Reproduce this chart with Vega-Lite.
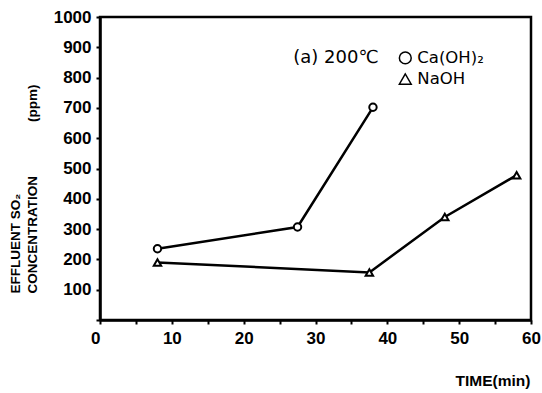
{
  "$schema": "https://vega.github.io/schema/vega-lite/v6.json",
  "width": 431,
  "height": 303,
  "autosize": "none",
  "padding": {"left": 100, "top": 17, "right": 11, "bottom": 73},
  "background": "white",
  "config": {
    "view": {"stroke": "black", "strokeWidth": 2.5},
    "font": "Liberation Sans",
    "axis": {"labelOverlap": false}
  },
  "datasets": {
    "series": [
      {"time": 8, "conc": 235, "sorbent": "Ca(OH)₂"},
      {"time": 27.5, "conc": 307, "sorbent": "Ca(OH)₂"},
      {"time": 38, "conc": 702, "sorbent": "Ca(OH)₂"},
      {"time": 8, "conc": 190, "sorbent": "NaOH"},
      {"time": 37.5, "conc": 157, "sorbent": "NaOH"},
      {"time": 48, "conc": 340, "sorbent": "NaOH"},
      {"time": 58, "conc": 478, "sorbent": "NaOH"}
    ],
    "key": [
      {"time": 42.5, "conc": 865, "sorbent": "Ca(OH)₂"},
      {"time": 42.5, "conc": 795, "sorbent": "NaOH"}
    ],
    "note": [
      {"time": 26.9, "conc": 865, "label": "(a) 200℃"}
    ]
  },
  "encoding": {
    "x": {
      "field": "time", "type": "quantitative",
      "scale": {"domain": [0, 60], "nice": false, "zero": false},
      "axis": {
        "values": [0, 5, 10, 15, 20, 25, 30, 35, 40, 45, 50, 55, 60],
        "labelExpr": "datum.value % 10 == 0 ? datum.label : ''",
        "labelAlign": {"condition": {"test": "datum.value == 0", "value": "right"}, "value": "center"},
        "labelOverlap": false,
        "grid": false,
        "domainColor": "black", "domainWidth": 2.5,
        "tickColor": "black", "tickWidth": 2, "tickSize": 4,
        "labelFont": "Liberation Sans", "labelFontWeight": "bold", "labelFontSize": 17, "labelColor": "black",
        "labelPadding": 6,
        "title": "TIME(min)",
        "titleFont": "Liberation Sans", "titleFontWeight": "bold", "titleFontSize": 15.5, "titleColor": "black",
        "titleAnchor": "end", "titleAlign": "right", "titleX": 430, "titleY": 65, "titleBaseline": "alphabetic"
      }
    },
    "y": {
      "field": "conc", "type": "quantitative",
      "scale": {"domain": [0, 1000], "nice": false},
      "axis": {
        "values": [0, 100, 200, 300, 400, 500, 600, 700, 800, 900, 1000],
        "labelExpr": "datum.value == 0 ? '' : datum.label",
        "labelOverlap": false,
        "format": "d",
        "grid": false,
        "domainColor": "black", "domainWidth": 2.5,
        "tickColor": "black", "tickWidth": 2, "tickSize": 4,
        "labelFont": "Liberation Sans", "labelFontWeight": "bold", "labelFontSize": 17, "labelColor": "black",
        "labelPadding": 5,
        "title": ["EFFLUENT SO₂", "CONCENTRATION\u2003\u2003\u2003\u2003(ppm)"],
        "titleFont": "Liberation Sans", "titleFontWeight": "bold", "titleFontSize": 13.5, "titleColor": "black",
        "titleAngle": -90, "titleAlign": "left", "titleBaseline": "middle",
        "titleX": -84.5, "titleY": 276, "titleLineHeight": 17
      }
    }
  },
  "layer": [
    {
      "data": {"name": "series"},
      "mark": {"type": "line", "stroke": "black", "strokeWidth": 2.5},
      "encoding": {
        "detail": {"field": "sorbent"}
      }
    },
    {
      "data": {"name": "series"},
      "mark": {"type": "point", "filled": true, "color": "white", "stroke": "black", "strokeWidth": 2, "opacity": 1, "size": 55},
      "encoding": {
        "shape": {
          "field": "sorbent", "type": "nominal",
          "scale": {"domain": ["Ca(OH)₂", "NaOH"], "range": ["circle", "triangle-up"]},
          "legend": null
        }
      }
    },
    {
      "data": {"name": "key"},
      "mark": {"type": "point", "filled": true, "color": "white", "stroke": "black", "strokeWidth": 1.5, "opacity": 1, "size": 140},
      "encoding": {
        "shape": {"field": "sorbent", "type": "nominal", "legend": null}
      }
    },
    {
      "data": {"name": "key"},
      "mark": {"type": "text", "align": "left", "baseline": "middle", "dx": 12, "fontSize": 16.5, "font": "DejaVu Sans", "color": "black"},
      "encoding": {
        "text": {"field": "sorbent"}
      }
    },
    {
      "data": {"name": "note"},
      "mark": {"type": "text", "align": "left", "baseline": "middle", "fontSize": 18, "font": "DejaVu Sans", "color": "black"},
      "encoding": {
        "text": {"field": "label"}
      }
    }
  ]
}
